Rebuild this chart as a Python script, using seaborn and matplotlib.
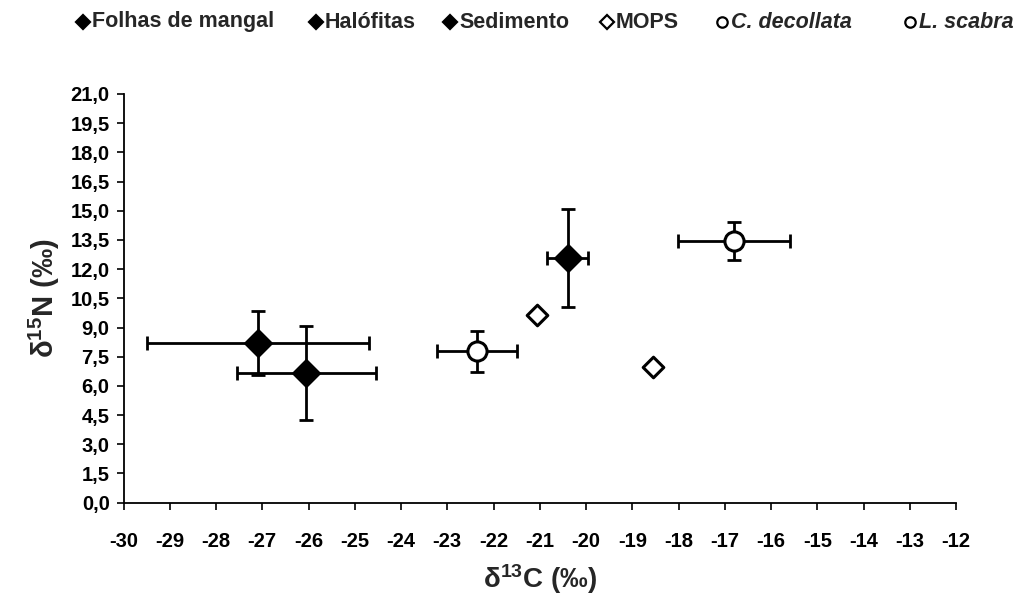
import matplotlib
matplotlib.use("Agg")
import matplotlib.pyplot as plt
import matplotlib.ticker as mticker
from matplotlib.lines import Line2D
import seaborn as sns
import pandas as pd
import numpy as np

# ---- data ----
groups = ["Folhas de mangal", "Halófitas", "Sedimento", "MOPS", "MOPS", "C. decollata", "L. scabra"]
d13C = [-27.1, -26.05, -20.4, -21.07, -18.56, -22.36, -16.8]
d15N = [8.2, 6.68, 12.57, 9.66, 6.97, 7.77, 13.46]
sd13C = [2.4, 1.5, 0.45, 0.0, 0.0, 0.86, 1.21]
sd15N = [1.66, 2.42, 2.53, 0.0, 0.0, 1.03, 0.97]

legend_order = ["Folhas de mangal", "Halófitas", "Sedimento", "MOPS", "C. decollata", "L. scabra"]
marker_map = {"Folhas de mangal": "D", "Halófitas": "D", "Sedimento": "D",
              "MOPS": "D", "C. decollata": "o", "L. scabra": "o"}
fill_map = {"Folhas de mangal": "black", "Halófitas": "black", "Sedimento": "black",
            "MOPS": "white", "C. decollata": "white", "L. scabra": "white"}
italic_names = ["C. decollata", "L. scabra"]

df = pd.DataFrame({"grupo": groups, "C": d13C, "N": d15N, "sC": sd13C, "sN": sd15N})

sns.set_theme(style="white")
plt.rcParams["font.family"] = ["Liberation Sans", "DejaVu Sans"]
plt.rcParams["mathtext.fontset"] = "custom"
plt.rcParams["mathtext.rm"] = "Liberation Sans"
plt.rcParams["mathtext.bf"] = "Liberation Sans:bold"
plt.rcParams["mathtext.it"] = "Liberation Sans:italic"

W, H = 1015, 599
fig = plt.figure(figsize=(W / 100, H / 100), dpi=100)
ax = fig.add_axes([0.1217, 0.1608, 0.8202, 0.6823])

# error bars
has_err = df[(df.sC > 0) | (df.sN > 0)]
ax.errorbar(has_err.C, has_err.N, xerr=has_err.sC, yerr=has_err.sN, fmt="none",
            ecolor="black", elinewidth=2.0, capsize=5, capthick=2.0, zorder=2)

# markers via seaborn
for g in legend_order:
    sub = df[df.grupo == g]
    mk = marker_map[g]
    size = 170 if mk == "D" else 190
    if g == "MOPS":
        size = 110
    sns.scatterplot(data=sub, x="C", y="N", ax=ax, marker=mk, s=size,
                    color=fill_map[g], edgecolor="black", linewidth=2.2,
                    zorder=3, legend=False)

ax.set_xlim(-30, -12)
ax.set_ylim(0, 21)
ax.set_xticks(np.arange(-30, -11, 1))
ax.set_yticks(np.arange(0, 21.01, 1.5))
ax.yaxis.set_major_formatter(mticker.FuncFormatter(lambda v, p: f"{v:.1f}".replace(".", ",")))
ax.xaxis.set_major_formatter(mticker.FuncFormatter(lambda v, p: f"{int(round(v))}"))

for s in ["top", "right"]:
    ax.spines[s].set_visible(False)
for s in ["left", "bottom"]:
    ax.spines[s].set_color("black")
    ax.spines[s].set_linewidth(1.3)
ax.tick_params(axis="both", which="major", direction="out", length=5, width=1.2,
               color="black", labelsize=14.5, labelcolor="black", left=True, bottom=True)
ax.tick_params(axis="x", pad=16)
ax.tick_params(axis="y", pad=5)
for lab in ax.get_xticklabels() + ax.get_yticklabels():
    lab.set_fontweight("bold")

ax.set_xlabel("δ$\\mathbf{^{13}}$C (‰)", fontsize=20, fontweight="bold")
ax.set_ylabel("δ$\\mathbf{^{15}}$N (‰)", fontsize=21, fontweight="bold")
ax.xaxis.set_label_coords(0.5, -0.145)
ax.yaxis.set_label_coords(-0.074, 0.5)

# legend entries placed individually along the top
leg_marker_x = [83, 316, 450, 607, 722, 910]
leg_y = 22
for g, mx in zip(legend_order, leg_marker_x):
    fig.add_artist(Line2D([mx / W], [1 - leg_y / H], transform=fig.transFigure,
                          marker=marker_map[g], linestyle="none",
                          markerfacecolor=fill_map[g], markeredgecolor="black",
                          markeredgewidth=1.6, markersize=7.5))
    fig.text((mx + 9) / W, 1 - leg_y / H, g, fontsize=15.5, fontweight="bold",
             fontstyle="italic" if g in italic_names else "normal",
             ha="left", va="center")

fig.savefig("out.png", dpi=100, facecolor="white")
